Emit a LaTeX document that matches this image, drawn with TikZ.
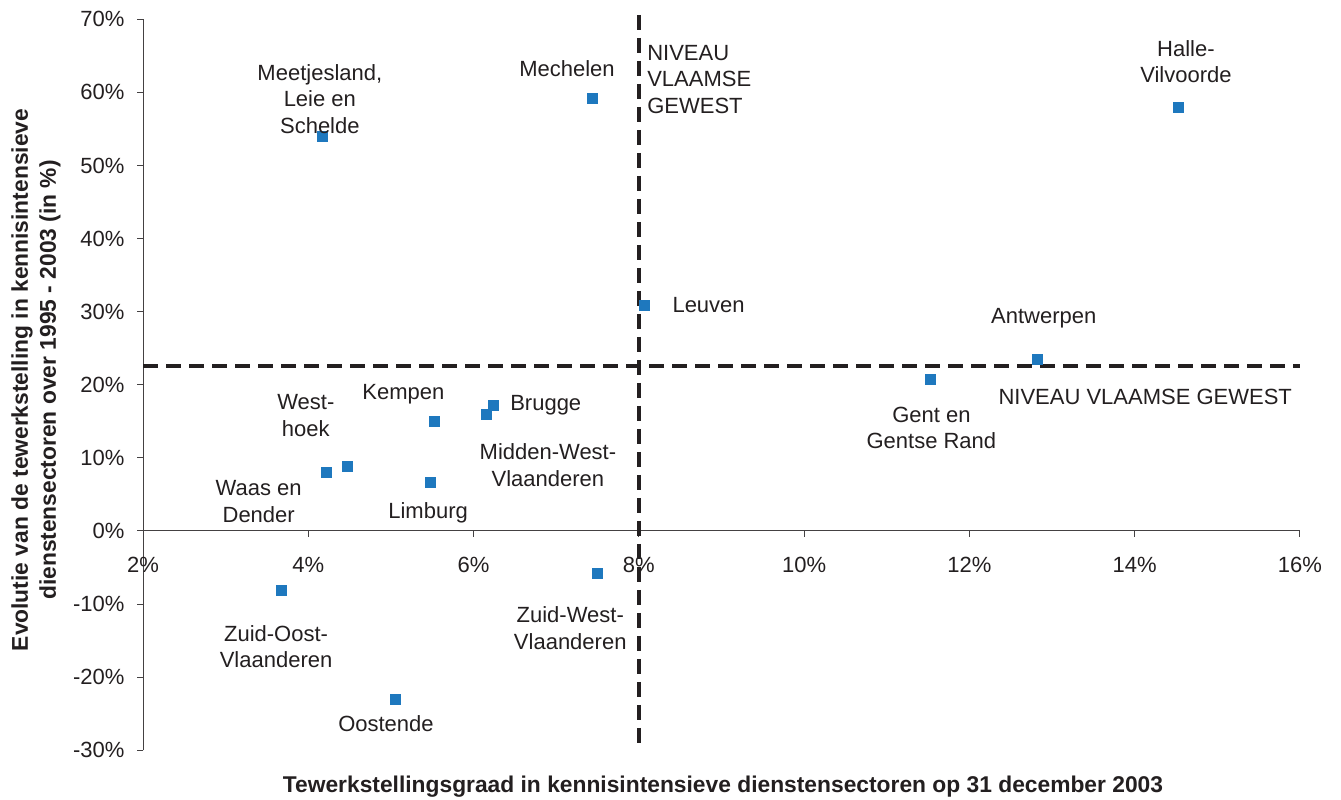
\documentclass[tikz,border=0pt]{standalone}
\usepackage{fontspec}
\setmainfont{Liberation Sans}
\usepackage{xcolor}
\usetikzlibrary{positioning}

\definecolor{ptblue}{RGB}{30,120,190}
\definecolor{ink}{RGB}{35,31,32}

\begin{document}
\begin{tikzpicture}[
    x=1pt, y=1pt,
    pt/.style={rectangle, fill=ptblue, minimum size=11pt, inner sep=0pt},
    lbl/.style={font=\fontsize{22}{26.5}\selectfont, text=ink, align=center, inner sep=0pt},
    tick/.style={font=\fontsize{22}{26.5}\selectfont, text=ink, inner sep=0pt},
    title/.style={font=\bfseries\fontsize{22.8}{28}\selectfont, text=ink, align=center, inner sep=0pt},
    level/.style={line width=4pt, dash pattern=on 15pt off 8pt, ink},
    axis/.style={line width=1pt, ink!85}
]
    \useasboundingbox (0,0) rectangle (1341,800);

    % Axis titles
    \node[title, rotate=90] (ytitle) at (36,420) {Evolutie van de tewerkstelling in kennisintensieve\\dienstensectoren over 1995 - 2003 (in \%)};
    \node[title] (xtitle) at (723,13) {Tewerkstellingsgraad in kennisintensieve dienstensectoren op 31 december 2003};

    \begin{scope}[shift={(-22.28pt,269pt)}, x=82.64pt, y=7.31pt]
    % Axes
    \draw[axis] (2,-30) -- (2,70);
    \draw[axis] (2,0) -- (16,0);
    \foreach \v in {-30,-20,...,70}
        \draw[axis] (2,\v) -- ++(-6pt,0) node[tick, anchor=east, xshift=-12pt] (yt\v) {\v\%};
    \foreach \v in {2,4,...,16}
        \draw[axis] (\v,0) -- ++(0,-6pt) node[tick, anchor=north, yshift=-20pt] (xt\v) {\v\%};

    % Level of the Flemish Region
    \coordinate (vtop) at (8,70.6);
    \coordinate (vbot) at (8,-29.7);
    \coordinate (hleft) at (2,22.6);
    \coordinate (hright) at (16,22.6);
    \draw[level] (vtop) -- (vbot);
    \draw[level] (hleft) -- (hright);
    \node[lbl, anchor=west, align=left] (vlevel) at (8.10,61.8) {NIVEAU\\VLAAMSE\\GEWEST};
    \node[lbl, anchor=west] (hlevel) at (12.35,18.3) {NIVEAU VLAAMSE GEWEST};

    % Regions
    \node[pt] (meet) at (4.17,54.0) {};
    \node[pt] (mech) at (7.44,59.2) {};
    \node[pt] (halle) at (14.53,58.0) {};
    \node[pt] (leuven) at (8.07,30.9) {};
    \node[pt] (antw) at (12.82,23.4) {};
    \node[pt] (gent) at (11.53,20.7) {};
    \node[pt] (brugge) at (6.24,17.2) {};
    \node[pt] (midwest) at (6.16,15.9) {};
    \node[pt] (kempen) at (5.53,15.0) {};
    \node[pt] (westhoek) at (4.48,8.85) {};
    \node[pt] (waas) at (4.22,8.0) {};
    \node[pt] (limburg) at (5.48,6.6) {};
    \node[pt] (zuidoost) at (3.67,-8.15) {};
    \node[pt] (zuidwest) at (7.50,-5.8) {};
    \node[pt] (oostende) at (5.06,-23.1) {};

    % Region names
    \node[lbl] (meet-l) at (4.14,59.1) {Meetjesland,\\Leie en\\Schelde};
    \node[lbl] (mech-l) at (7.13,63.2) {Mechelen};
    \node[lbl] (halle-l) at (14.62,64.2) {Halle-\\Vilvoorde};
    \node[lbl, right=22pt of leuven] (leuven-l) {Leuven};
    \node[lbl] (antw-l) at (12.90,29.1) {Antwerpen};
    \node[lbl] (gent-l) at (11.54,14.1) {Gent en\\Gentse Rand};
    \node[lbl, right=11pt of brugge] (brugge-l) {Brugge};
    \node[lbl] (kempen-l) at (5.15,18.7) {Kempen};
    \node[lbl] (westhoek-l) at (3.97,15.8) {West-\\hoek};
    \node[lbl] (midwest-l) at (6.90,9.0) {Midden-West-\\Vlaanderen};
    \node[lbl] (waas-l) at (3.40,4.0) {Waas en\\Dender};
    \node[lbl] (limburg-l) at (5.45,2.5) {Limburg};
    \node[lbl] (zuidoost-l) at (3.61,-15.8) {Zuid-Oost-\\Vlaanderen};
    \node[lbl] (zuidwest-l) at (7.17,-13.3) {Zuid-West-\\Vlaanderen};
    \node[lbl] (oostende-l) at (4.94,-26.3) {Oostende};
    \end{scope}
\end{tikzpicture}
\end{document}
